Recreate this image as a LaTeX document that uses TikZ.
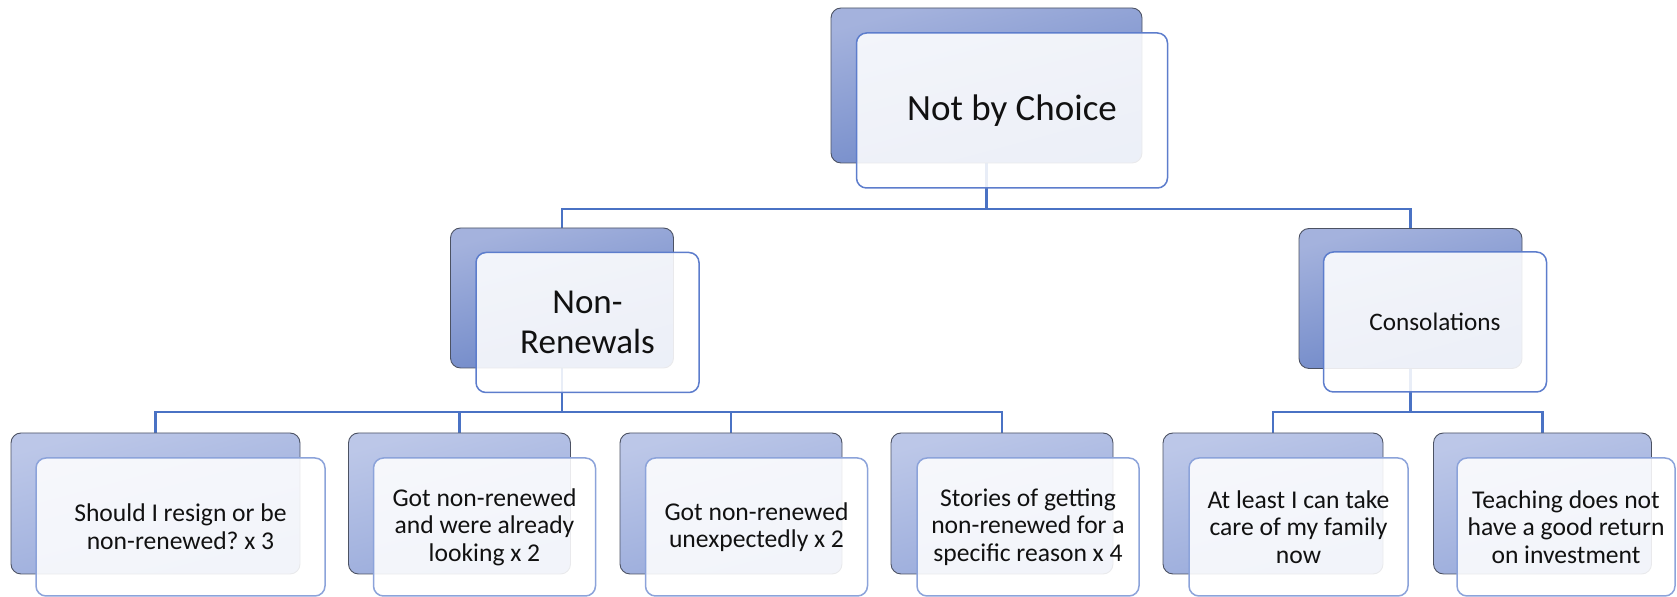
\documentclass[tikz,border=0pt]{standalone}
\usepackage{fontspec}
\setmainfont{Carlito}
\frenchspacing
\definecolor{linkblue}{HTML}{4A72C4}
\definecolor{backtopA}{HTML}{A4B2DD}
\definecolor{backbotA}{HTML}{6A84C6}
\definecolor{backtopB}{HTML}{BCC7E8}
\definecolor{backbotB}{HTML}{97A9DA}
\definecolor{edgedark}{HTML}{4C5263}
\definecolor{frontedgeA}{HTML}{5D7DCC}
\definecolor{frontedgeB}{HTML}{8CA3DA}
\definecolor{inktext}{HTML}{111111}
\begin{document}
\frenchspacing
\begin{tikzpicture}[x=0.5pt,y=-0.5pt,
  link/.style={draw=linkblue, line width=1.1pt},
  card/.style={rectangle, rounded corners=5pt, inner sep=0pt},
  backA/.style={card, draw=edgedark, line width=0.45pt,
    top color=backtopA, bottom color=backbotA, shading angle=15},
  backB/.style={card, draw=edgedark, line width=0.45pt,
    top color=backtopB, bottom color=backbotB, shading angle=15},
  frontA/.style={card, draw=frontedgeA, line width=0.75pt, fill=white,
    fill opacity=0.88, text opacity=1, text=inktext, align=center},
  frontB/.style={card, draw=frontedgeB, line width=0.75pt, fill=white,
    fill opacity=0.88, text opacity=1, text=inktext, align=center},
  lvlone/.style={minimum width=155.5pt, minimum height=77.5pt},
  lvltwo/.style={minimum width=111.5pt, minimum height=70pt},
  lvlthree/.style={minimum width=111pt, minimum height=70.5pt},
  lvlthreef/.style={minimum width=111pt, minimum height=69pt},
  txtbig/.style={font=\fontsize{18.5}{22}\selectfont},
  txtmid/.style={font=\fontsize{17.5}{20}\selectfont},
  txtsmall/.style={font=\fontsize{12.6}{15}\selectfont},
  txtleaf/.style={font=\fontsize{12.8}{13.8}\selectfont},
]
\useasboundingbox (0,0) rectangle (1677,597);

% positions of the back cards
\coordinate (pRoot) at (986.5,85.5);
\coordinate (pNR)   at (562,298);
\coordinate (pCO)   at (1410.5,298.5);
\coordinate (pL1)   at (155.5,503.5);
\coordinate (pL2)   at (459.5,503.5);
\coordinate (pL3)   at (731,503.5);
\coordinate (pL4)   at (1002,503.5);
\coordinate (pL5)   at (1273,503.5);
\coordinate (pL6)   at (1542.5,503.5);
% heights of the horizontal buses
\coordinate (busTop) at (0,209);
\coordinate (busLow) at (0,412);

% connectors (drawn first, so the cards sit on top)
\draw[link] (pRoot) -- (pRoot |- busTop) -| (pNR);
\draw[link] (pRoot |- busTop) -| (pCO);
\draw[link] (pNR) -- (pNR |- busLow) -| (pL1);
\draw[link] (pNR |- busLow) -| (pL2);
\draw[link] (pNR |- busLow) -| (pL3);
\draw[link] (pNR |- busLow) -| (pL4);
\draw[link] (pCO) -- (pCO |- busLow) -| (pL5);
\draw[link] (pCO |- busLow) -| (pL6);

% back cards
\node[backA, lvlone] (rootB) at (pRoot) {};
\node[backA, lvltwo] (nrB) at (pNR) {};
\node[backA, lvltwo] (coB) at (pCO) {};
\node[backB, lvlthree, minimum width=144.5pt] (l1B) at (pL1) {};
\node[backB, lvlthree] (l2B) at (pL2) {};
\node[backB, lvlthree] (l3B) at (pL3) {};
\node[backB, lvlthree] (l4B) at (pL4) {};
\node[backB, lvlthree, minimum width=110pt] (l5B) at (pL5) {};
\node[backB, lvlthree, minimum width=109pt] (l6B) at (pL6) {};

% front cards with the labels
\node[frontA, lvlone, txtbig] (root) at (1012,110.5) {Not by Choice};
\node[frontA, lvltwo, txtmid] (nr) at (587.5,322.5) {Non-\\Renewals};
\node[frontA, lvltwo, txtsmall] (co) at (1435,322) {Consolations};
\node[frontB, lvlthreef, minimum width=144.5pt, txtleaf] (l1) at (180.5,527)
  {Should I resign or be\\non-renewed? x 3};
\node[frontB, lvlthreef, txtleaf] (l2) at (484.5,527)
  {Got non-renewed\\and were already\\looking x 2};
\node[frontB, lvlthreef, txtleaf] (l3) at (756.5,527)
  {Got non-renewed\\unexpectedly x 2};
\node[frontB, lvlthreef, txtleaf] (l4) at (1028,527)
  {Stories of getting\\non-renewed for a\\specific reason x 4};
\node[frontB, lvlthreef, minimum width=109.5pt, txtleaf] (l5) at (1298.5,527)
  {At least I can take\\care of my family\\now};
\node[frontB, lvlthreef, minimum width=109pt, txtleaf] (l6) at (1566,527)
  {Teaching does not\\have a good return\\on investment};
\end{tikzpicture}
\end{document}
